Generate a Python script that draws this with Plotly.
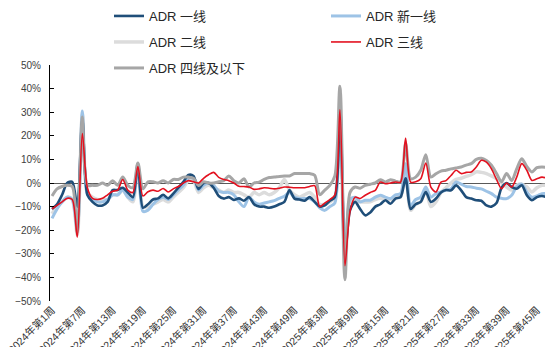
import plotly.graph_objects as go

weeks = [f"2024年第{w}周" for w in range(1, 53)] + [f"2025年第{w}周" for w in range(1, 48)]

adr_tier1 = [-11, -9, -5, 0, 0.5, -10, 27, -5, -8, -9.5, -9.5, -8, -3, -3, -2, -4, -6, 8, -10.5, -9,
             -7, -6.5, -5, -6.5, -4.5, -2, 0.5, 3.4, 3, -2.5, 0, 0, -2, -5.5, -6.6, -6, -7.2, -6.5, -7.5, -6,
             -9, -10, -10, -10.5, -10, -9, -8, -3, -6.6, -7, -7.5, -6, -8, -10, -9.5, -7.5, -6, 34, -30, -11.6,
             -8, -11, -13.7, -12.5, -10, -9, -7.3, -8.8, -6.6, -6, 2, -11, -9, -8, -3.8, -8, -6.6, -4, -3, -3.1,
             -1, -3.1, -6, -6.6, -7.3, -7.5, -9.5, -10, -8.5, -2, 0, -1.7, -2.4, -1, -5.2, -7.3, -6, -5.5, -6]

adr_newtier1 = [-15, -11, -8, -6, -7, -20, 30.5, -5, -7, -8, -8, -7, -5, -5, -3, -6, -7, 8, -12, -11.5,
                -9, -7, -6, -7, -5, -3, -1, 2, 2, -3, -1, 0, -1, -3.5, -4, -4, -5, -8, -10, -6,
                -8, -9, -8.5, -8, -7.5, -6.5, -5.6, -4, -6, -6.6, -6.6, -6.6, -8, -10.5, -11.6, -10, -8.5, 32, -33, -7,
                -6, -8, -7.3, -7.3, -6, -5.2, -6, -6.6, -5, -4.5, 8.2, -9.5, -7, -6, -1.7, -6, -4.5, -3.8, -3, -2.4,
                0.4, -0.5, -1.5, -1.7, -2.2, -2.5, -3.5, -4.5, -6, -6.5, -6.6, -5.2, -1.5, -0.5, -3.8, -6, -5.5, -4.5, -4.5]

adr_tier2 = [-13, -10, -8, -6, -7, -22, 29, -4, -6, -7, -7, -7, -5, -5, -3, -6, -8, 8, -10, -10,
             -9, -8, -7, -8, -6, -4, -2, 1, 1, -4, -2, -1, -2, -3, -4, -3, -4, -4, -5, -6,
             -4, -5, -4, -5, -4, -2, 1.5, -3, -5, -6, -5, -4, -6, -9, -9, -8, -6, 40, -40, -9,
             -7, -8, -8, -8, -7, -6.5, -7, -7, -6, -6, 5, -11.6, -9, -8, -3, -10, -8, -4, -2, 0,
             1.5, 2, 2.8, 3.5, 4.7, 4.5, 4, 3, 1.8, 0, -1.7, -3, -1, -0.5, -1.7, -3.8, -2, -1, -1]

adr_tier3 = [-11, -9.5, -8, -6.5, -7, -23, 21, -2, -6.5, -7, -6.5, -5, -3.5, -3, 1.5, -3, -4, 7, -5.5, -3.7,
             -3, -3.5, -2.3, -3.8, -2.5, -1.5, 0, 1, 0.5, 0, 2, 3.5, 4.5, 2.4, 1.5, 1, 0, -1.4, -1.5, -1.7,
             -2.7, -2.5, -2, -2.2, -2.5, -2.2, -1.7, -1.8, -2, -2, -2, -1.5, -1.1, -10, -8.5, -7, -5, 31, -35, -12,
             -6, -6.6, -5.2, -4, -3.1, 0.4, -0.3, 0, 0.4, 0.4, 19, 0.4, 0.5, 1.8, 8.5, -1.7, -3.8, 0.4, 1, 3.2,
             5.4, 4, 4.5, 4.7, 6.8, 9.6, 8.8, 6, 1.5, -2.4, 0, -1.7, 2.5, 8.2, 5.4, 1.1, 1.8, 2.5, 2]

adr_tier4 = [-5.5, -2.5, -1.5, -1, -1.5, -21, 28, -1, -1, -1, 0, -1, 1, -1, 2.5, -1, -2, 8.5, -2.5, 0.5,
             0.5, 0, 1, 0, 1.5, 1.5, 2.5, 2.5, 2, -1, 0.5, 0, 0, 0.5, 1, 3, 1, 0, 1.8, -1.7,
             0, 0.4, 1.5, 2.3, 2.5, 2.8, 3, 3, 4, 4, 4, 4, 3.3, -5, -3, -1, 3, 41, -41, -4,
             -1.7, -2.2, -1, -0.5, 0, 1.4, 0.4, 1.4, 0.8, 0.5, 17, 1.8, 2.5, 5.4, 12, 2.5, 3.9, 5, 5.4, 6,
             6.4, 6.8, 7.6, 8.2, 10, 10.5, 9.5, 7.5, 4, 0.5, 4, 1.1, 6, 10.3, 7, 4.7, 6.5, 6.8, 6.5]

tick_weeks = weeks[::6]
y_ticks = list(range(-50, 51, 10))
y_ticktext = [("\u2212" if v < 0 else "") + f"{abs(v)}%" for v in y_ticks]

font_family = "Liberation Sans, Arial, Noto Sans CJK SC, sans-serif"

# (name, values, color, width, legend id)
series = [
    ("ADR 二线", adr_tier2, "#dcdcdc", 3.5, "legend3"),
    ("ADR 新一线", adr_newtier1, "#9dc3e6", 3, "legend2"),
    ("ADR 一线", adr_tier1, "#1f4e79", 2.6, "legend"),
    ("ADR 四线及以下", adr_tier4, "#a6a6a6", 3, "legend5"),
    ("ADR 三线", adr_tier3, "#e3111f", 1.6, "legend4"),
]

fig = go.Figure()
for name, vals, color, width, leg in series:
    fig.add_trace(go.Scatter(
        x=weeks, y=vals, name=name, mode="lines",
        line=dict(color=color, width=width, shape="spline", smoothing=0.8),
        legend=leg, hoverinfo="skip",
    ))

W, H = 545, 347
ml, mr, mt, mb = 50, 0, 65, 46
pw, ph = W - ml - mr, H - mt - mb

def px_x(x):
    return (x - ml) / pw

def px_y(y):
    return 1 - (y - mt) / ph

leg_font = dict(family=font_family, size=13, color="#262626")
legend_pos = {
    "legend": (109, 16),
    "legend2": (326, 16),
    "legend3": (109, 42),
    "legend4": (326, 42),
    "legend5": (109, 68),
}
legend_layout = {}
for key, (lx, ly) in legend_pos.items():
    legend_layout[key] = dict(
        x=px_x(lx), y=px_y(ly), xanchor="left", yanchor="middle",
        bgcolor="rgba(0,0,0,0)", borderwidth=0, font=leg_font,
        itemwidth=30, valign="middle",
    )

fig.update_layout(
    width=W, height=H,
    margin=dict(l=ml, r=mr, t=mt, b=mb, autoexpand=False),
    paper_bgcolor="white", plot_bgcolor="white",
    showlegend=True,
    font=dict(family=font_family, size=10, color="#404040"),
    **legend_layout,
)

fig.update_xaxes(
    type="category", range=[-0.4, 97.6],
    tickmode="array", tickvals=tick_weeks, ticktext=tick_weeks,
    tickangle=-45, tickfont=dict(family=font_family, size=10.5, color="#333333"),
    showgrid=False, showline=False, zeroline=False, ticks="",
    automargin=False,
)
fig.update_yaxes(
    range=[-50, 50], tickmode="array", tickvals=y_ticks, ticktext=y_ticktext,
    tickfont=dict(family=font_family, size=10, color="#404040"),
    showgrid=False, showline=True, linecolor="#000000", linewidth=1,
    ticks="inside", ticklen=4, tickcolor="#000000",
    zeroline=True, zerolinecolor="#595959", zerolinewidth=1,
    ticklabelstandoff=6, automargin=False,
)

fig.write_html(
    "out.html",
    config={"displayModeBar": False},
    post_script="document.body.style.margin='0';document.body.style.overflow='hidden';",
)
